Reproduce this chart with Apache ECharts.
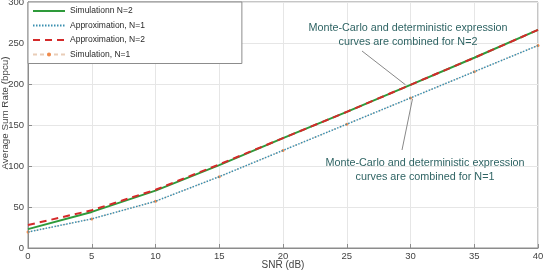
<!DOCTYPE html>
<html><head><meta charset="utf-8">
<script src="https://cdn.jsdelivr.net/npm/echarts@6/dist/echarts.min.js"></script>
<style>html,body{margin:0;padding:0;background:#fff}#c{width:543px;height:272px}</style>
</head><body><div id="c"></div>
<script>
const snr = [0, 5, 10, 15, 20, 25, 30, 35, 40];
const simN2 = [23, 44, 70, 101, 134, 166, 199, 232, 266];
const apprN1 = [19.5, 35.5, 57, 87, 119, 151, 183, 215, 247];
const apprN2 = [28, 46, 71, 102, 134, 166, 199, 232, 266];
const simN1 = [19.5, 35.5, 57, 87, 119, 151, 183, 215, 247];
const xTicks = {min: 0, max: 40, interval: 5};
const yTicks = {min: 0, max: 300, interval: 50};
const xName = 'SNR (dB)';
const yName = 'Average Sum Rate (bpcu)';
const note2 = ['Monte-Carlo and deterministic expression', 'curves are combined for N=2'];
const note1 = ['Monte-Carlo and deterministic expression', 'curves are combined for N=1'];

const pair = a => snr.map((x, i) => [x, a[i]]);
const font = 'Liberation Sans, Arial, sans-serif';
const chart = echarts.init(document.getElementById('c'));
const hide = {opacity: 0};
chart.setOption({
  animation: false,
  grid: {left: 28, right: 5, top: 2, bottom: 24, containLabel: false, outerBoundsMode: 'none',
         show: true, borderColor: '#8c8c8c', borderWidth: 1},
  legend: {
    orient: 'vertical', left: 28, top: 2, itemWidth: 32, itemHeight: 5, itemGap: 4.5,
    padding: [4, 97, 4, 4], backgroundColor: '#fff', borderColor: '#8c8c8c', borderWidth: 1,
    textStyle: {fontFamily: font, fontSize: 8.5, color: '#2a2a2a', lineHeight: 10},
    data: [
      {name: 'Simulationn N=2', itemStyle: hide},
      {name: 'Approximation, N=1', itemStyle: hide},
      {name: 'Approximation, N=2', itemStyle: hide},
      {name: 'Simulation, N=1'}
    ]
  },
  xAxis: {
    type: 'value', min: xTicks.min, max: xTicks.max, interval: xTicks.interval,
    axisLine: {lineStyle: {color: '#8c8c8c'}},
    axisTick: {inside: true, length: 4, lineStyle: {color: '#8c8c8c'}},
    axisLabel: {fontFamily: font, fontSize: 9.5, color: '#444', margin: 3},
    splitLine: {lineStyle: {color: '#e6e6e6'}}
  },
  yAxis: {
    type: 'value', min: yTicks.min, max: yTicks.max, interval: yTicks.interval,
    axisLine: {show: true, lineStyle: {color: '#8c8c8c'}},
    axisTick: {show: true, inside: true, length: 4, lineStyle: {color: '#8c8c8c'}},
    axisLabel: {fontFamily: font, fontSize: 9.5, color: '#444', margin: 4},
    splitLine: {lineStyle: {color: '#e6e6e6'}}
  },
  series: [
    {name: 'Simulationn N=2', type: 'line', data: pair(simN2), symbol: 'none',
     lineStyle: {color: '#2e9a3a', width: 2}, itemStyle: {color: '#2e9a3a'}, z: 3},
    {name: 'Approximation, N=1', type: 'line', data: pair(apprN1), symbol: 'none',
     lineStyle: {color: '#3a8fb0', width: 1.5, type: [1.5, 1.5]}, itemStyle: {color: '#3a8fb0'}, z: 3},
    {name: 'Approximation, N=2', type: 'line', data: pair(apprN2), symbol: 'none',
     lineStyle: {color: '#d42a2a', width: 2, type: [7, 5]}, itemStyle: {color: '#d42a2a'}, z: 4},
    {name: 'Simulation, N=1', type: 'line', data: pair(simN1), symbol: 'circle', symbolSize: 3, showSymbol: true,
     lineStyle: {color: '#e9cdb8', width: 1, type: [4, 3]}, itemStyle: {color: '#f08a4b'}, z: 2}
  ]
});

function drawNotes() {
  const p2 = chart.convertToPixel({gridIndex: 0}, [30, simN2[6]]);
  const p1 = chart.convertToPixel({gridIndex: 0}, [30, apprN1[6] - 1]);
  const xc = chart.convertToPixel({gridIndex: 0}, [20, 0]);
  const txt = (lines, x, y) => ({type: 'text', x: x, y: y, z: 10,
    style: {text: lines.join('\n'), fill: '#2f6464', font: '10.8px ' + font, textAlign: 'center', lineHeight: 14}});
  chart.setOption({graphic: [
    txt(note2, 408, 21),
    txt(note1, 425, 156),
    {type: 'line', shape: {x1: 362, y1: 51, x2: p2[0] - 5, y2: p2[1]}, style: {stroke: '#888', lineWidth: 1}, z: 10},
    {type: 'line', shape: {x1: 402, y1: 150, x2: p1[0] + 2, y2: p1[1]}, style: {stroke: '#888', lineWidth: 1}, z: 10},
    {type: 'text', x: xc[0], y: 265, style: {text: xName, fill: '#444', font: '10px ' + font,
      textAlign: 'center', textVerticalAlign: 'middle'}},
    {type: 'text', x: 5, y: 113, rotation: Math.PI / 2, style: {text: yName, fill: '#444', font: '9.8px ' + font,
      textAlign: 'center', textVerticalAlign: 'middle'}}
  ]});
}
drawNotes();
</script></body></html>
